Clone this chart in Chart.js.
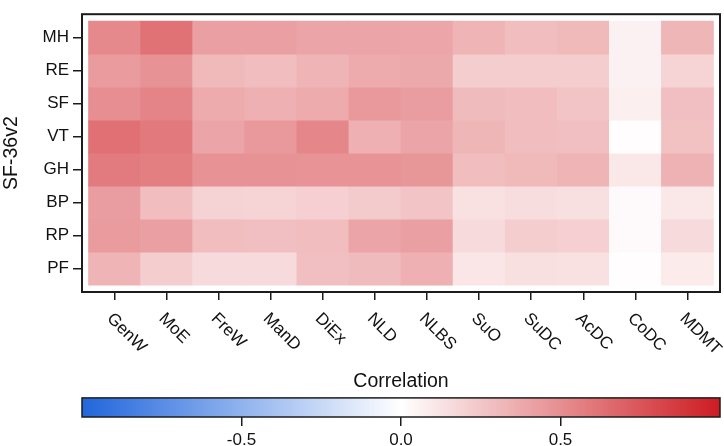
<!DOCTYPE html>
<html>
<head>
<meta charset="utf-8">
<script src="https://cdn.jsdelivr.net/npm/chart.js@4.4.1/dist/chart.umd.min.js"></script>
<style>
html,body{margin:0;padding:0;background:#fff;}
#wrap{position:relative;width:724px;height:446px;overflow:hidden;}
canvas{position:absolute;left:0;}
#main{top:0;}
#bar{top:360px;}
</style>
</head>
<body>
<div id="wrap">
<canvas id="main" width="724" height="360"></canvas>
<canvas id="bar" width="724" height="86"></canvas>
</div>
<script>
// ---- data ----
const cols = ['GenW','MoE','FreW','ManD','DiEx','NLD','NLBS','SuO','SuDC','AcDC','CoDC','MDMT'];
const rows = ['MH','RE','SF','VT','GH','BP','RP','PF'];
const MH = [0.52,0.62,0.42,0.42,0.40,0.40,0.39,0.33,0.29,0.31,0.06,0.32];
const RE = [0.44,0.48,0.31,0.29,0.33,0.37,0.38,0.22,0.22,0.22,0.06,0.19];
const SF = [0.50,0.54,0.37,0.35,0.37,0.45,0.43,0.30,0.29,0.26,0.07,0.28];
const VT = [0.63,0.59,0.40,0.45,0.53,0.35,0.40,0.32,0.29,0.28,0.01,0.27];
const GH = [0.58,0.57,0.48,0.48,0.47,0.47,0.46,0.29,0.31,0.33,0.10,0.34];
const BP = [0.43,0.29,0.20,0.19,0.21,0.23,0.26,0.13,0.15,0.14,0.02,0.10];
const RP = [0.44,0.42,0.29,0.28,0.29,0.40,0.42,0.16,0.22,0.21,0.02,0.16];
const PF = [0.33,0.22,0.16,0.16,0.28,0.30,0.35,0.11,0.14,0.13,0.01,0.09];
const colorbarTicks = [-0.5, 0.0, 0.5];
const colorbarRange = [-1, 1];

const values = [MH, RE, SF, VT, GH, BP, RP, PF];

// ---- colour map (blue - white - red) ----
const LO = [33,102,220], MID = [255,255,255], HI = [205,28,34];
function corrColor(v){
  const t = Math.max(-1, Math.min(1, v));
  const end = t < 0 ? LO : HI;
  const a = Math.abs(t);
  return 'rgb(' + MID.map((m,i)=>Math.round(m + (end[i]-m)*a)).join(',') + ')';
}

const FAM = "'Liberation Sans', Arial, Helvetica, sans-serif";
const TICK_SIZE = 17;
const TITLE_SIZE = 19.5;
Chart.defaults.font.family = FAM;
Chart.defaults.font.size = TICK_SIZE;
Chart.defaults.color = '#111';
Chart.defaults.animation = false;

const INK = '#1c1c1c';

const framePlugin = {
  id: 'frame',
  afterDraw(chart, args, opts){
    const {ctx, chartArea: a} = chart;
    ctx.save();
    ctx.strokeStyle = INK;
    ctx.lineWidth = opts.lineWidth || 2;
    ctx.strokeRect(a.left, a.top, a.right - a.left, a.bottom - a.top);
    ctx.restore();
  }
};

const rotLabelPlugin = {
  id: 'rotLabels',
  afterDraw(chart){
    const {ctx} = chart;
    const xs = chart.scales.x;
    ctx.save();
    ctx.fillStyle = '#111';
    ctx.font = TICK_SIZE + 'px ' + FAM;
    ctx.textAlign = 'left';
    ctx.textBaseline = 'middle';
    cols.forEach((c, i) => {
      const px = xs.getPixelForValue(i);
      ctx.save();
      ctx.translate(px - 5, 316);
      ctx.rotate(Math.PI / 4);
      ctx.fillText(c, 0, 0);
      ctx.restore();
    });
    ctx.restore();
  }
};

const datasets = rows.map((name, r) => ({
  label: name,
  data: cols.map((c, ci) => ({x: ci, y: [r - 0.5, r + 0.5]})),
  backgroundColor: values[r].map(corrColor),
  borderWidth: 0,
  grouped: false,
  barPercentage: 1,
  categoryPercentage: 1
}));

new Chart(document.getElementById('main'), {
  type: 'bar',
  data: { datasets },
  plugins: [framePlugin, rotLabelPlugin],
  options: {
    responsive: false,
    devicePixelRatio: 1,
    layout: { padding: { top: 3, right: 4, left: 0, bottom: 0 } },
    plugins: { legend: { display: false }, tooltip: { enabled: false }, frame: { lineWidth: 2 } },
    scales: {
      x: {
        type: 'linear',
        offset: false,
        min: -0.625, max: cols.length - 1 + 0.625,
        afterBuildTicks: (s) => { s.ticks = cols.map((_, i) => ({ value: i })); },
        afterFit: (s) => { s.height = 68; },
        ticks: { display: false },
        grid: { offset: false, drawOnChartArea: false, drawTicks: true, tickLength: 8, color: INK, lineWidth: 1.5 },
        border: { display: false }
      },
      y: {
        type: 'linear',
        reverse: true,
        offset: false,
        min: -0.708, max: rows.length - 1 + 0.708,
        afterBuildTicks: (s) => { s.ticks = rows.map((_, i) => ({ value: i })); },
        afterFit: (s) => { s.width = 82; },
        ticks: { padding: 4, color: '#111', callback: (v) => rows[v], font: { size: TICK_SIZE } },
        grid: { offset: false, drawOnChartArea: false, drawTicks: true, tickLength: 9, color: INK, lineWidth: 1.5 },
        border: { display: false },
        title: { display: true, text: 'SF-36v2', color: '#111', font: { size: TITLE_SIZE }, padding: { top: 0, bottom: 0 } }
      }
    }
  }
});

// ---- colour bar ----
new Chart(document.getElementById('bar'), {
  type: 'bar',
  data: {
    labels: ['Correlation'],
    datasets: [{
      data: [colorbarRange],
      borderWidth: 0,
      barPercentage: 1,
      categoryPercentage: 1,
      backgroundColor: (ctx) => {
        const chart = ctx.chart;
        const xs = chart.scales.x;
        if (!chart.chartArea || !xs) return '#fff';
        const x0 = xs.getPixelForValue(colorbarRange[0]);
        const x1 = xs.getPixelForValue(colorbarRange[1]);
        const g = chart.ctx.createLinearGradient(x0, 0, x1, 0);
        for (let k = 0; k <= 40; k++) {
          const v = colorbarRange[0] + (colorbarRange[1] - colorbarRange[0]) * k / 40;
          g.addColorStop(k / 40, corrColor(v));
        }
        return g;
      }
    }]
  },
  plugins: [framePlugin],
  options: {
    indexAxis: 'y',
    responsive: false,
    devicePixelRatio: 1,
    layout: { padding: { top: 0, right: 4, left: 82, bottom: 0 } },
    plugins: {
      legend: { display: false }, tooltip: { enabled: false }, frame: { lineWidth: 1.5 },
      title: { display: true, text: 'Correlation', color: '#111', font: { size: TITLE_SIZE, weight: 'normal' }, padding: { top: 10, bottom: 4.5 } }
    },
    scales: {
      y: { display: false },
      x: {
        type: 'linear',
        min: colorbarRange[0], max: colorbarRange[1],
        afterBuildTicks: (s) => { s.ticks = colorbarTicks.map(v => ({ value: v })); },
        afterFit: (s) => { s.height = 29; },
        ticks: { padding: 4, color: '#111', callback: (v) => v.toFixed(1), maxRotation: 0, font: { size: TICK_SIZE } },
        grid: { drawOnChartArea: false, drawTicks: true, tickLength: 9, color: INK, lineWidth: 1.5 },
        border: { display: false }
      }
    }
  }
});
</script>
</body>
</html>
